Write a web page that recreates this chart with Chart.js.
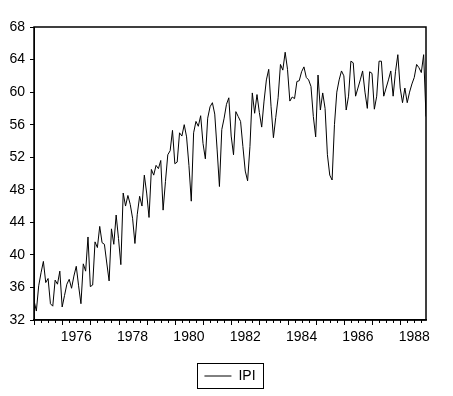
<!DOCTYPE html>
<html>
<head>
<meta charset="utf-8">
<script src="https://cdn.jsdelivr.net/npm/chart.js@4.4.1/dist/chart.umd.min.js"></script>
<style>
  html, body { margin: 0; padding: 0; background: #fff; }
  #wrap { width: 453px; height: 396px; position: relative; }
</style>
</head>
<body>
<div id="wrap"><canvas id="ipiChart"></canvas></div>
<script>
// monthly series, first observation Jan 1975
const startYear = 1975;
const seriesName = 'IPI';
const ipi = [
  34.4, 33.1, 36.2, 37.8, 39.2, 36.6, 37.1, 34.0, 33.7, 36.9, 36.4, 38.0,
  33.6, 35.0, 36.4, 37.0, 35.9, 37.4, 38.6, 36.2, 34.0, 38.9, 38.0, 42.2,
  36.1, 36.3, 41.6, 40.9, 43.5, 41.5, 41.3, 39.0, 36.8, 43.2, 41.3, 44.9,
  42.0, 38.8, 47.6, 46.0, 47.3, 46.2, 44.5, 41.4, 45.0, 47.2, 46.0, 49.8,
  47.6, 44.6, 50.5, 49.8, 51.0, 50.6, 51.6, 45.5, 49.0, 52.3, 52.8, 55.3,
  51.2, 51.4, 55.0, 54.6, 56.0, 54.5, 51.0, 46.6, 55.0, 56.4, 55.8, 57.1,
  53.7, 51.8, 56.8, 58.2, 58.7, 57.3, 53.0, 48.4, 55.4, 56.8, 58.5, 59.3,
  54.6, 52.3, 57.6, 57.0, 56.4, 53.3, 50.3, 49.1, 53.3, 59.9, 57.4, 59.7,
  57.5, 55.7, 58.9, 61.5, 62.8, 58.2, 54.4, 56.9, 59.3, 63.4, 62.7, 64.9,
  62.8, 58.9, 59.4, 59.2, 61.3, 61.4, 62.5, 63.1, 61.8, 61.5, 60.7, 57.0,
  54.5, 62.1, 57.8, 59.9, 58.0, 52.3, 49.8, 49.2, 56.0, 60.0, 61.5, 62.6,
  62.0, 57.8, 59.5, 63.8, 63.6, 59.5, 60.5, 61.5, 62.6, 60.0, 58.0, 62.5,
  62.3, 57.9, 59.5, 63.8, 63.8, 59.5, 60.5, 61.5, 62.6, 59.5, 62.5, 64.6,
  60.5, 58.7, 60.5, 58.7, 60.0, 61.0, 61.8, 63.4, 63.0, 62.4, 64.6, 57.0
];
const yearLabels = [1976, 1978, 1980, 1982, 1984, 1986, 1988];
const yTicks = [32, 36, 40, 44, 48, 52, 56, 60, 64, 68];

const axisFont = { family: "'Liberation Sans', Arial, sans-serif", size: 14 };

// quarter ticks (long at each January) + frame around the plot
const frameAndTicks = {
    id: 'frameAndTicks',
    afterDraw(chart) {
        const { ctx, chartArea: a, scales: { x } } = chart;
        ctx.save();
        ctx.strokeStyle = '#000';
        ctx.lineWidth = 1;
        for (let m = 0; m < ipi.length; m += 3) {
            const px = Math.round(x.getPixelForValue(m)) + 0.5;
            const len = m % 12 === 0 ? 5 : 3;
            ctx.beginPath();
            ctx.moveTo(px, a.bottom);
            ctx.lineTo(px, a.bottom + len);
            ctx.stroke();
        }
        ctx.lineWidth = 1.5;
        ctx.strokeRect(a.left, a.top, a.right - a.left, a.bottom - a.top);
        ctx.restore();
    }
};

// centre the legend under the plot area and box it
const legendBox = {
    id: 'legendBox',
    afterLayout(chart) {
        const lg = chart.legend;
        if (!lg) return;
        const a = chart.chartArea;
        const shift = (a.left + a.right) / 2 - (lg.left + lg.right) / 2;
        lg.left += shift;
        lg.right += shift;
    },
    afterDraw(chart) {
        const hb = chart.legend && chart.legend.legendHitBoxes && chart.legend.legendHitBoxes[0];
        if (!hb) return;
        const ctx = chart.ctx;
        ctx.save();
        ctx.strokeStyle = '#000';
        ctx.lineWidth = 1;
        ctx.strokeRect(Math.round(hb.left - 7) + 0.5, Math.round(hb.top - 6) + 0.5,
            Math.round(hb.width + 15), Math.round(hb.height + 11));
        ctx.restore();
    }
};

new Chart(document.getElementById('ipiChart'), {
    type: 'line',
    data: {
        datasets: [{
            label: seriesName,
            data: ipi.map((v, i) => ({ x: i, y: v })),
            borderColor: '#000',
            backgroundColor: '#000',
            borderWidth: 1,
            pointRadius: 0,
            tension: 0,
            fill: false
        }]
    },
    options: {
        responsive: true,
        maintainAspectRatio: false,
        animation: false,
        layout: { padding: { top: 27, right: 27, left: 0, bottom: 3 } },
        plugins: {
            tooltip: { enabled: false },
            legend: {
                position: 'bottom',
                labels: {
                    color: '#000',
                    font: axisFont,
                    usePointStyle: true,
                    pointStyle: 'line',
                    pointStyleWidth: 27,
                    padding: 10
                }
            }
        },
        scales: {
            x: {
                type: 'linear',
                min: 0,
                max: ipi.length - 1,
                afterBuildTicks: s => {
                    s.ticks = yearLabels.map(y => ({ value: (y - startYear) * 12 + 6 }));
                },
                afterFit: s => { s.height = 39; },
                ticks: {
                    color: '#000',
                    font: axisFont,
                    padding: 9,
                    maxRotation: 0,
                    autoSkip: false,
                    callback: v => String(startYear + Math.floor(v / 12))
                },
                grid: { display: true, drawOnChartArea: false, drawTicks: false },
                border: { display: true, color: '#000', width: 1.5 }
            },
            y: {
                min: 32,
                max: 68,
                afterBuildTicks: s => { s.ticks = yTicks.map(v => ({ value: v })); },
                afterFit: s => { s.width = 34; },
                ticks: { color: '#000', font: axisFont, padding: 5 },
                grid: { drawOnChartArea: false, tickLength: 4, tickColor: '#000' },
                border: { display: true, color: '#000', width: 1 }
            }
        }
    },
    plugins: [frameAndTicks, legendBox]
});
</script>
</body>
</html>
